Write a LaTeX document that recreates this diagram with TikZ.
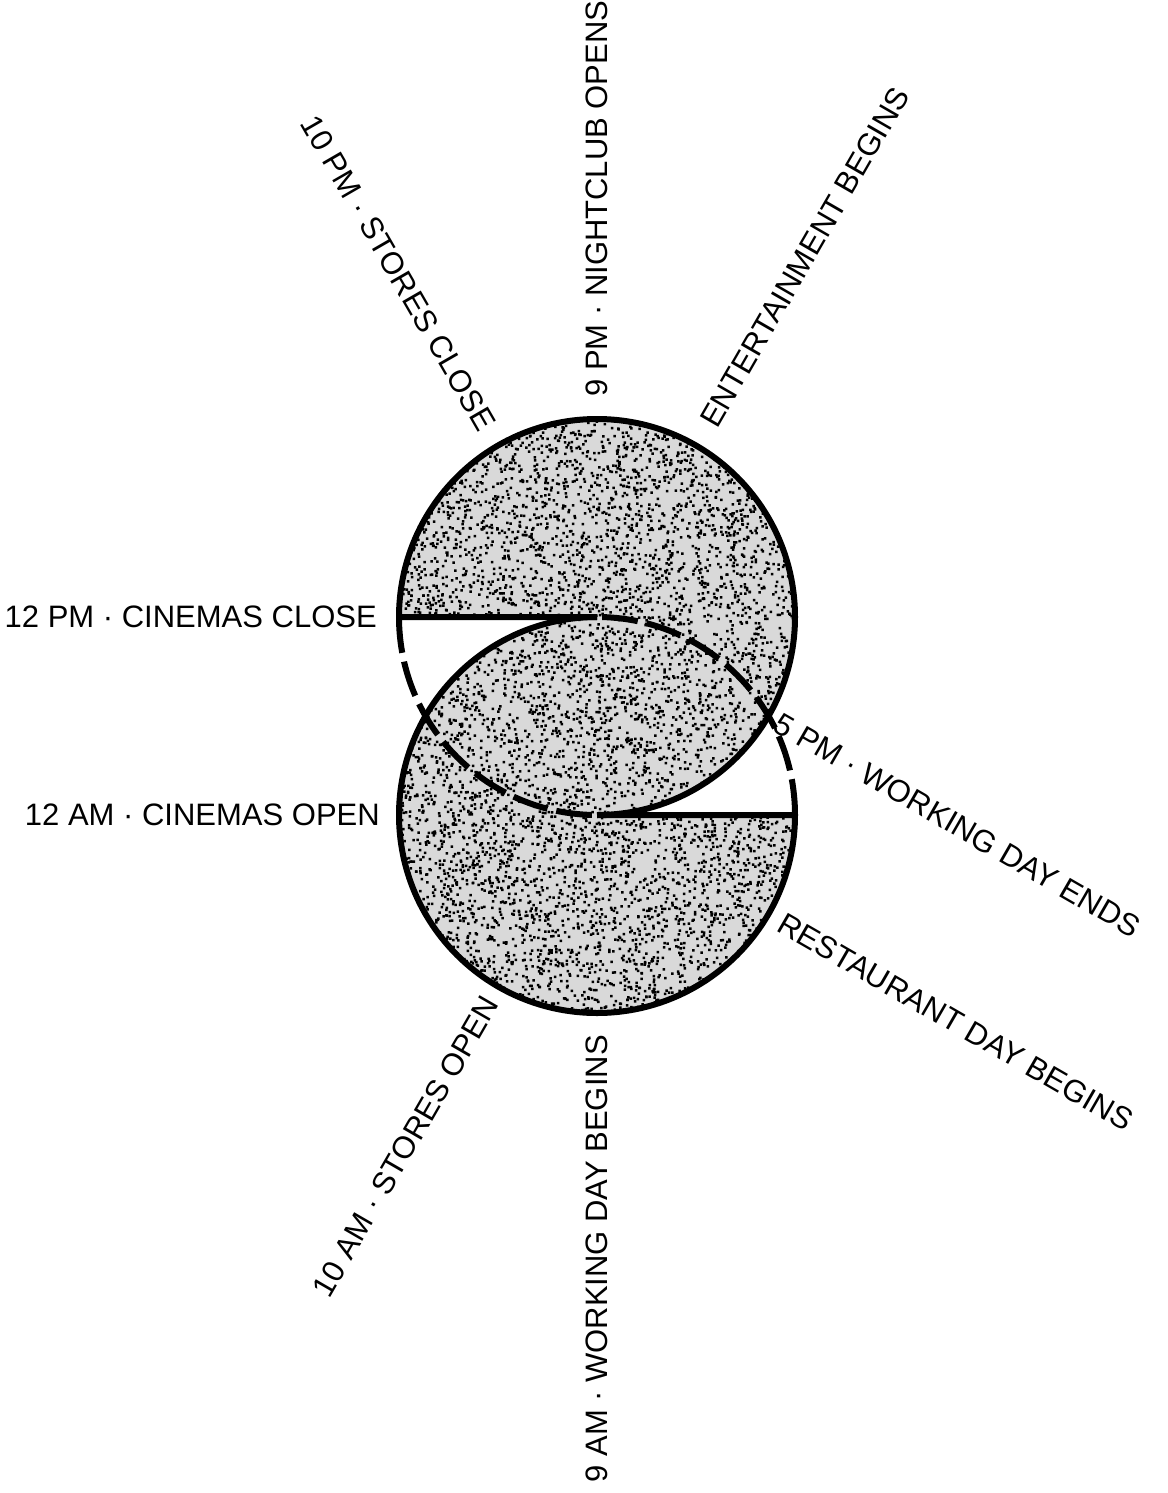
\documentclass[tikz,border=0pt]{standalone}
\usepackage{fontspec}
\setmainfont{Liberation Sans}
\tikzset{
  outline/.style={line width=6pt, line join=round},
  dashedarc/.style={line width=6pt, dash pattern=on 36pt off 9pt},
  lbl/.style={inner sep=0pt, font=\fontsize{31}{36}\selectfont}
}
\begin{document}
\begin{tikzpicture}[x=1pt,y=1pt]
\fill[white] (0,0) rectangle (1167,-1493);
\useasboundingbox (0,0) rectangle (1167,-1493);
\def\R{198}
\coordinate (U) at (597,-617);
\coordinate (L) at (597,-815);
\coordinate (UL) at (399,-617);
\coordinate (LR) at (795,-815);
% stippled fill
\fill[black!15] (U) -- (UL) arc[start angle=180,end angle=-90,radius=\R] -- cycle
  (L) -- (LR) arc[start angle=0,end angle=-270,radius=\R] -- cycle;
\begin{scope}
  \clip (U) -- (UL) arc[start angle=180,end angle=-90,radius=\R] -- cycle
    (L) -- (LR) arc[start angle=0,end angle=-270,radius=\R] -- cycle;
  \pgfmathsetseed{42}
  \foreach \j in {1,...,35} {
    \fill[black] foreach \i in {1,...,200} { ({597+198*rand},{-716+297*rand}) rectangle +(2.5,2.5) };
  }
\end{scope}
% outlines
\draw[outline] (U) -- (UL) arc[start angle=180,end angle=-90,radius=\R];
\draw[outline] (L) -- (LR) arc[start angle=0,end angle=-270,radius=\R];
\draw[dashedarc] (UL) arc[start angle=180,end angle=270,radius=\R];
\draw[dashedarc] (LR) arc[start angle=0,end angle=90,radius=\R];
% labels
\node[lbl,anchor=east] (pm12) at ([shift={(180:220)}]U) {12 PM · CINEMAS CLOSE};
\node[lbl,anchor=east,rotate=-60] (pm10) at ([shift={(120:218)}]U) {10 PM · STORES CLOSE};
\node[lbl,anchor=west,rotate=90] (pm9) at ([shift={(90:220)}]U) {9 PM · NIGHTCLUB OPENS};
\node[lbl,anchor=west,rotate=60] (ent) at ([shift={(60:222)}]U) {ENTERTAINMENT BEGINS};
\node[lbl,anchor=west,rotate=-30] (pm5) at ([shift={(-30:208)}]U) {5 PM · WORKING DAY ENDS};
\node[lbl,anchor=east] (am12) at ([shift={(180:217)}]L) {12 AM · CINEMAS OPEN};
\node[lbl,anchor=west,rotate=-30] (rest) at ([shift={(-30:212)}]L) {RESTAURANT DAY BEGINS};
\node[lbl,anchor=east,rotate=60] (am10) at ([shift={(240:212)}]L) {10 AM · STORES OPEN};
\node[lbl,anchor=east,rotate=90] (am9) at ([shift={(270:220)}]L) {9 AM · WORKING DAY BEGINS};
\end{tikzpicture}
\end{document}
